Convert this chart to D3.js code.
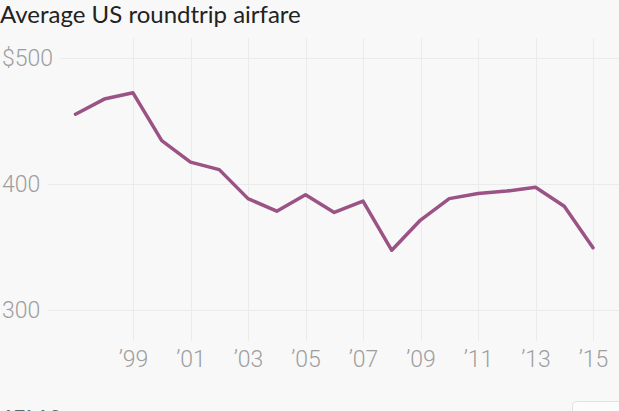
<!DOCTYPE html>
<html>
<head>
<meta charset="utf-8">
<script src="https://cdn.jsdelivr.net/npm/d3@7"></script>
<style>
  html, body { margin: 0; padding: 0; background: #f8f8f8; }
  svg { display: block; }
</style>
</head>
<body>
<svg id="chart" width="619" height="411"></svg>
<script>
const years = [1997,1998,1999,2000,2001,2002,2003,2004,2005,2006,2007,2008,2009,2010,2011,2012,2013,2014,2015];
const fares = [455,467,472,434,417,411,388,378,391,377,386,347,371,388,392,394,397,382,349];
const yTicks = [300,400,500];
const xTicks = [1999,2001,2003,2005,2007,2009,2011,2013,2015];
const title = "Average US roundtrip airfare";

const W = 619, H = 411;
const svg = d3.select("#chart");
svg.append("rect").attr("width", W).attr("height", H).attr("fill", "#f8f8f8");

const x = d3.scaleLinear().domain([1997, 2015]).range([75.5, 593]);
const y = d3.scaleLinear().domain([300, 500]).range([309.5, 57.5]);

const gridColor = "#ebebeb";
const labelColor = "#9e9e9e";
const font = "Roboto, 'Noto Sans', sans-serif";

// vertical grid
svg.append("g").selectAll("line").data(xTicks).join("line")
  .attr("x1", d => Math.round(x(d)) + 0.5).attr("x2", d => Math.round(x(d)) + 0.5)
  .attr("y1", 38).attr("y2", 341)
  .attr("stroke", gridColor).attr("stroke-width", 1);

// y axis via d3 axis
const yAxis = d3.axisLeft(y).tickValues(yTicks)
  .tickFormat(d => d === 500 ? "$500" : String(d))
  .tickSize(0);
const yg = svg.append("g").attr("transform", "translate(2,0)").call(yAxis);
yg.select(".domain").remove();
yg.selectAll("text")
  .attr("text-anchor", "start").attr("x", 0).attr("dy", "0.36em")
  .attr("fill", labelColor).style("font-family", font)
  .style("font-size", "23px").style("font-weight", 300);
// horizontal gridlines starting after each label
yg.selectAll(".tick").each(function(d) {
  const t = d3.select(this);
  const w = t.select("text").node().getComputedTextLength();
  t.insert("line", "text")
    .attr("x1", w + 7).attr("x2", W)
    .attr("y1", 0.5).attr("y2", 0.5)
    .attr("stroke", gridColor).attr("stroke-width", 1);
});

// x axis
const xAxis = d3.axisBottom(x).tickValues(xTicks)
  .tickFormat(d => "\u2019" + String(d).slice(2)).tickSize(0);
const xg = svg.append("g").attr("transform", "translate(0,340)").call(xAxis);
xg.select(".domain").remove();
xg.selectAll("text")
  .attr("y", 0).attr("dy", "1.17em")
  .attr("fill", labelColor).style("font-family", font)
  .style("font-size", "23px").style("font-weight", 300);

// line
const line = d3.line().x((d, i) => x(years[i])).y(d => y(d));
svg.append("path").datum(fares)
  .attr("d", line).attr("fill", "none")
  .attr("stroke", "#9b5284").attr("stroke-width", 3.5)
  .attr("stroke-linejoin", "round").attr("stroke-linecap", "round");

// title
svg.append("text").attr("x", 0).attr("y", 23)
  .text(title).attr("fill", "#222")
  .style("font-family", "Lato, 'Open Sans', sans-serif")
  .style("font-size", "24px").style("font-weight", 400);

// footer remnants
svg.append("text").attr("x", 3).attr("y", 422).text("ATLAS")
  .attr("fill", "#666").style("font-family", font)
  .style("font-size", "16px").style("font-weight", 700).style("letter-spacing", "2px");
svg.append("rect").attr("x", 572.5).attr("y", 401.5).attr("width", 60).attr("height", 24)
  .attr("rx", 4).attr("fill", "#fcfcfc").attr("stroke", "#e2e2e2");
</script>
</body>
</html>
